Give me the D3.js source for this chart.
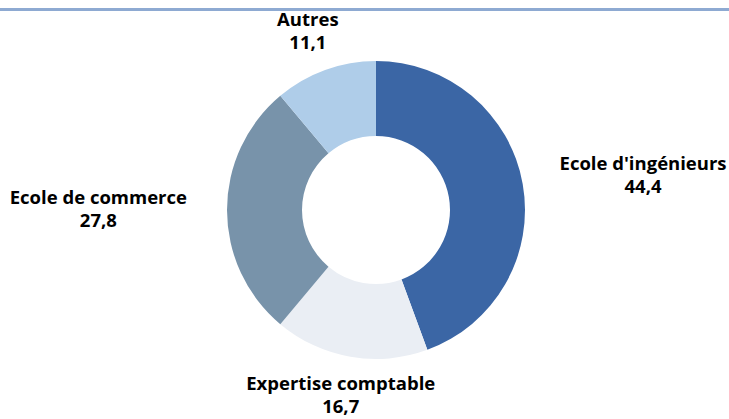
<!DOCTYPE html>
<html>
<head>
<meta charset="utf-8">
<script src="https://cdn.jsdelivr.net/npm/d3@7"></script>
<style>
  body { margin: 0; background: #fff; }
  svg { display: block; }
</style>
</head>
<body>
<script>
    var w = 729; //width of the SVG canvas
    var h = 419; //height of the SVG canvas

    // categories and values, clockwise from 12 o'clock
    var categories = ["Ecole d'ingénieurs", "Expertise comptable", "Ecole de commerce", "Autres"];
    var values = [44.4, 16.7, 27.8, 11.1];
    var valueLabels = ["44,4", "16,7", "27,8", "11,1"];
    var colors = ["#3b66a5", "#eaeef4", "#7893aa", "#afcde9"];

    var cx = 376, cy = 210;
    var outerR = 149, innerR = 74;
    var labelR = 189;
    var lineGap = 23;

    var svg = d3.select("body")
        .append("svg")
        .attr("width", w)
        .attr("height", h);

    // thin rule across the top
    svg.append("line")
        .attr("x1", 0).attr("x2", w)
        .attr("y1", 9.5).attr("y2", 9.5)
        .attr("stroke", "#8eaad2")
        .attr("stroke-width", 3);

    var pie = d3.pie()
        .sort(null)
        .value(function(d) { return d; });

    var arc = d3.arc()
        .innerRadius(innerR)
        .outerRadius(outerR);

    var arcs = pie(values);

    var g = svg.append("g")
        .attr("transform", "translate(" + cx + "," + cy + ")");

    g.selectAll("path")
        .data(arcs)
        .enter()
        .append("path")
        .attr("d", arc)
        .attr("fill", function(d, i) { return colors[i]; });

    // labels: category on first line, value below, centred on each other
    var labels = g.selectAll("g.label")
        .data(arcs)
        .enter()
        .append("g")
        .attr("class", "label")
        .style("font-family", "'Open Sans', sans-serif")
        .style("font-weight", "bold")
        .style("font-size", "18.5px")
        .attr("fill", "#000");

    labels.append("text")
        .attr("text-anchor", "middle")
        .attr("y", -lineGap / 2 + 5)
        .text(function(d, i) { return categories[i]; });

    labels.append("text")
        .attr("text-anchor", "middle")
        .attr("y", lineGap / 2 + 5)
        .text(function(d, i) { return valueLabels[i]; });

    // push each label block outward so its near edge sits by the ring
    labels.attr("transform", function(d) {
        var a = (d.startAngle + d.endAngle) / 2;
        var s = Math.sin(a), c = Math.cos(a);
        var bw = this.getBBox().width;
        var x = s * labelR + s * Math.abs(s) * bw / 2;
        var y = -c * labelR;
        return "translate(" + x + "," + y + ")";
    });
</script>
</body>
</html>
